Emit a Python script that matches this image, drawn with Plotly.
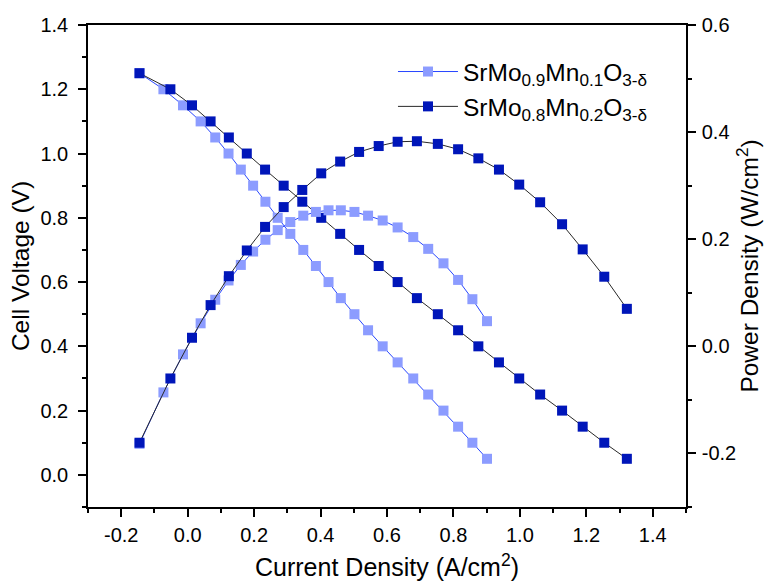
import plotly.graph_objects as go

# SrMo0.9Mn0.1O3-δ
x1 = [-0.145, -0.073, -0.014, 0.039, 0.083, 0.123, 0.160, 0.197, 0.234, 0.271, 0.309, 0.348, 0.386,
      0.424, 0.461, 0.502, 0.543, 0.587, 0.632, 0.679, 0.724, 0.770, 0.814, 0.857, 0.901]
v1 = [1.25, 1.20, 1.15, 1.10, 1.05, 1.00, 0.95, 0.90, 0.85, 0.80, 0.75, 0.70, 0.65,
      0.60, 0.55, 0.50, 0.45, 0.40, 0.35, 0.30, 0.25, 0.20, 0.15, 0.10, 0.05]
p1 = [-0.182, -0.086, -0.015, 0.043, 0.087, 0.123, 0.152, 0.177, 0.199, 0.217, 0.232, 0.244, 0.251,
      0.254, 0.254, 0.251, 0.244, 0.235, 0.222, 0.204, 0.182, 0.155, 0.124, 0.088, 0.047]

# SrMo0.8Mn0.2O3-δ
x2 = [-0.145, -0.052, 0.013, 0.069, 0.124, 0.178, 0.233, 0.289, 0.345, 0.402, 0.459, 0.516, 0.575,
      0.632, 0.690, 0.753, 0.814, 0.875, 0.937, 0.998, 1.061, 1.127, 1.189, 1.254, 1.322]
v2 = [1.25, 1.20, 1.15, 1.10, 1.05, 1.00, 0.95, 0.90, 0.85, 0.80, 0.75, 0.70, 0.65,
      0.60, 0.55, 0.50, 0.45, 0.40, 0.35, 0.30, 0.25, 0.20, 0.15, 0.10, 0.05]
p2 = [-0.180, -0.060, 0.016, 0.077, 0.131, 0.179, 0.223, 0.260, 0.292, 0.323, 0.345, 0.363, 0.374,
      0.382, 0.383, 0.378, 0.368, 0.351, 0.330, 0.302, 0.269, 0.228, 0.181, 0.130, 0.070]

names = ["SrMo<sub>0.9</sub>Mn<sub>0.1</sub>O<sub>3-δ</sub>",
         "SrMo<sub>0.8</sub>Mn<sub>0.2</sub>O<sub>3-δ</sub>"]

xticks = [-0.2, 0, 0.2, 0.4, 0.6, 0.8, 1.0, 1.2, 1.4]
yticks = [0, 0.2, 0.4, 0.6, 0.8, 1.0, 1.2, 1.4]
y2ticks = [-0.2, 0, 0.2, 0.4, 0.6]

c_light = "rgb(140,156,255)"
c_dark = "rgb(0,22,185)"
l_light = "rgb(40,70,255)"
l_dark = "rgb(40,40,40)"

fig = go.Figure()
fig.add_trace(go.Scatter(x=x1, y=v1, mode="lines+markers", name=names[0],
                         line=dict(color=l_light, width=1),
                         marker=dict(symbol="square", size=10, color=c_light)))
fig.add_trace(go.Scatter(x=x1, y=p1, mode="lines+markers", yaxis="y2", showlegend=False,
                         line=dict(color=l_light, width=1),
                         marker=dict(symbol="square", size=10, color=c_light)))
fig.add_trace(go.Scatter(x=x2, y=v2, mode="lines+markers", name=names[1],
                         line=dict(color=l_dark, width=1),
                         marker=dict(symbol="square", size=10, color=c_dark)))
fig.add_trace(go.Scatter(x=x2, y=p2, mode="lines+markers", yaxis="y2", showlegend=False,
                         line=dict(color=l_dark, width=1),
                         marker=dict(symbol="square", size=10, color=c_dark)))

font = "Liberation Sans, Arial, sans-serif"
minor = dict(ticks="outside", dtick=0.1, tick0=0, ticklen=4, tickwidth=1.5, tickcolor="black")
axis_common = dict(showline=True, linecolor="black", linewidth=1.5, ticks="outside",
                   ticklen=8, tickwidth=1.5, tickcolor="black", showgrid=False, zeroline=False,
                   automargin=False,
                   tickfont=dict(size=20, color="black", family=font), minor=minor)

fig.update_layout(
    width=767, height=585,
    margin=dict(l=88, r=81, t=25, b=78),
    paper_bgcolor="white", plot_bgcolor="white",
    font=dict(family=font, color="black"),
    xaxis=dict(range=[-0.3, 1.5], tickvals=xticks, ticktext=[f"{v:.1f}" for v in xticks],
               mirror=True, ticklabelstandoff=1,
               title=dict(text="Current Density (A/cm<sup>2</sup>)", font=dict(size=25, family=font), standoff=14),
               **axis_common),
    yaxis=dict(range=[-0.1, 1.4], tickvals=yticks, ticktext=[f"{v:.1f}" for v in yticks],
               ticklabelstandoff=6,
               title=dict(text="Cell Voltage (V)", font=dict(size=24.5, family=font), standoff=4),
               **axis_common),
    yaxis2=dict(range=[-0.3, 0.6], overlaying="y", side="right",
                tickvals=y2ticks, ticktext=[f"{v:.1f}" for v in y2ticks],
                ticklabelstandoff=2,
                title=dict(text="Power Density (W/cm<sup>2</sup>)", font=dict(size=24.5, family=font), standoff=6),
                **axis_common),
    legend=dict(x=0.51, y=0.95, xanchor="left", yanchor="top", bgcolor="rgba(0,0,0,0)",
                font=dict(size=24.5, family=font), tracegroupgap=0, itemwidth=60),
)

fig.write_html("out.html")
